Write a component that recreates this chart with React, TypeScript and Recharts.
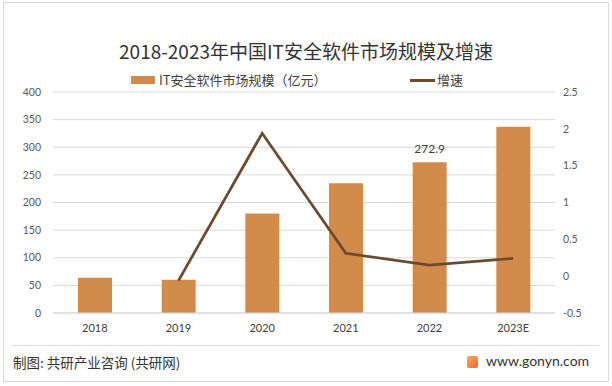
import { Bar, CartesianGrid, ComposedChart, Line, XAxis, YAxis } from "recharts";

const years = ["2018", "2019", "2020", "2021", "2022", "2023E"];
const marketSize = [64, 60, 180, 235, 272.9, 337];
const growth = [null, -0.06, 1.94, 0.31, 0.15, 0.24];
const leftTicks = [0, 50, 100, 150, 200, 250, 300, 350, 400];
const rightTicks = [-0.5, 0, 0.5, 1, 1.5, 2, 2.5];

const data = years.map((year, i) => ({ year, size: marketSize[i], growth: growth[i] }));

const BAR = "#D38B4C";
const LINE = "#6B4A2F";
const CJK = '"Noto Sans CJK SC", "Noto Sans", sans-serif';
const NUM = 'Lato, "Noto Sans", sans-serif';

function LegendRow() {
  return (
    <div style={{ position: "absolute", left: 0, top: 70, width: 612, height: 20, fontFamily: CJK, fontSize: 13, color: "#404040" }}>
      <div style={{ position: "absolute", left: 131, top: 6, width: 24, height: 8, background: BAR }} />
      <div style={{ position: "absolute", left: 159, top: 0, lineHeight: "20px" }}>IT安全软件市场规模（亿元）</div>
      <div style={{ position: "absolute", left: 410, top: 9, width: 25, height: 3, background: LINE }} />
      <div style={{ position: "absolute", left: 437, top: 0, lineHeight: "20px" }}>增速</div>
    </div>
  );
}

function sizeLabel(props: any) {
  if (props.index !== 4) return null;
  return (
    <text x={props.x + props.width / 2} y={props.y - 9} textAnchor="middle" fontSize={12} fontFamily={NUM} fill="#404040">
      {props.value}
    </text>
  );
}

export default function App() {
  return (
    <div style={{ position: "absolute", left: 0, top: 0, width: 612, height: 386, background: "#fff", overflow: "hidden" }}>
      <div style={{ position: "absolute", left: 3, top: 2, width: 604, height: 378, border: "1px solid #D9D9D9" }} />
      <div
        style={{
          position: "absolute",
          left: 0,
          width: 612,
          top: 38,
          textAlign: "center",
          fontFamily: CJK,
          fontSize: 19,
          color: "#333",
          lineHeight: "26px",
        }}
      >
        2018-2023年中国IT安全软件市场规模及增速
      </div>
      <LegendRow />
      <div style={{ position: "absolute", left: 0, top: 0 }}>
        <ComposedChart width={612} height={386} data={data} margin={{ top: 92, right: 0, bottom: 43, left: 0 }}>
          <CartesianGrid yAxisId="left" vertical={false} stroke="#D9D9D9" />
          <XAxis
            dataKey="year"
            height={30}
            axisLine={{ stroke: "#D9D9D9" }}
            tickLine={false}
            tickMargin={5}
            tick={{ fontSize: 11, fontFamily: NUM, fill: "#404040" }}
          />
          <YAxis
            yAxisId="left"
            width={53}
            domain={[0, 400]}
            ticks={leftTicks}
            axisLine={false}
            tickLine={false}
            tickMargin={6}
            tick={{ fontSize: 10.5, fontFamily: NUM, fill: "#595959" }}
          />
          <YAxis
            yAxisId="right"
            orientation="right"
            width={57}
            domain={[-0.5, 2.5]}
            ticks={rightTicks}
            axisLine={false}
            tickLine={false}
            tick={{ fontSize: 10.5, fontFamily: NUM, fill: "#595959", textAnchor: "start" }}
          />
          <Bar yAxisId="left" dataKey="size" fill={BAR} barSize={34} isAnimationActive={false} label={sizeLabel} />
          <Line
            yAxisId="right"
            dataKey="growth"
            stroke={LINE}
            strokeWidth={2.75}
            dot={false}
            activeDot={false}
            isAnimationActive={false}
          />
        </ComposedChart>
      </div>
      <div style={{ position: "absolute", left: 12, right: 12, top: 345, height: 1, background: "#D9D9D9" }} />
      <div style={{ position: "absolute", left: 13, top: 352, fontFamily: CJK, fontSize: 13.5, color: "#333", lineHeight: "20px" }}>
        制图: 共研产业咨询 (共研网)
      </div>
      <div
        style={{
          position: "absolute",
          left: 467,
          top: 356,
          width: 11,
          height: 12,
          borderRadius: 2,
          background: "linear-gradient(135deg, #F7A95B, #EE6A2E)",
        }}
      />
      <div style={{ position: "absolute", left: 486, top: 351, fontFamily: NUM, fontSize: 14, color: "#333", lineHeight: "20px" }}>
        www.gonyn.com
      </div>
    </div>
  );
}
